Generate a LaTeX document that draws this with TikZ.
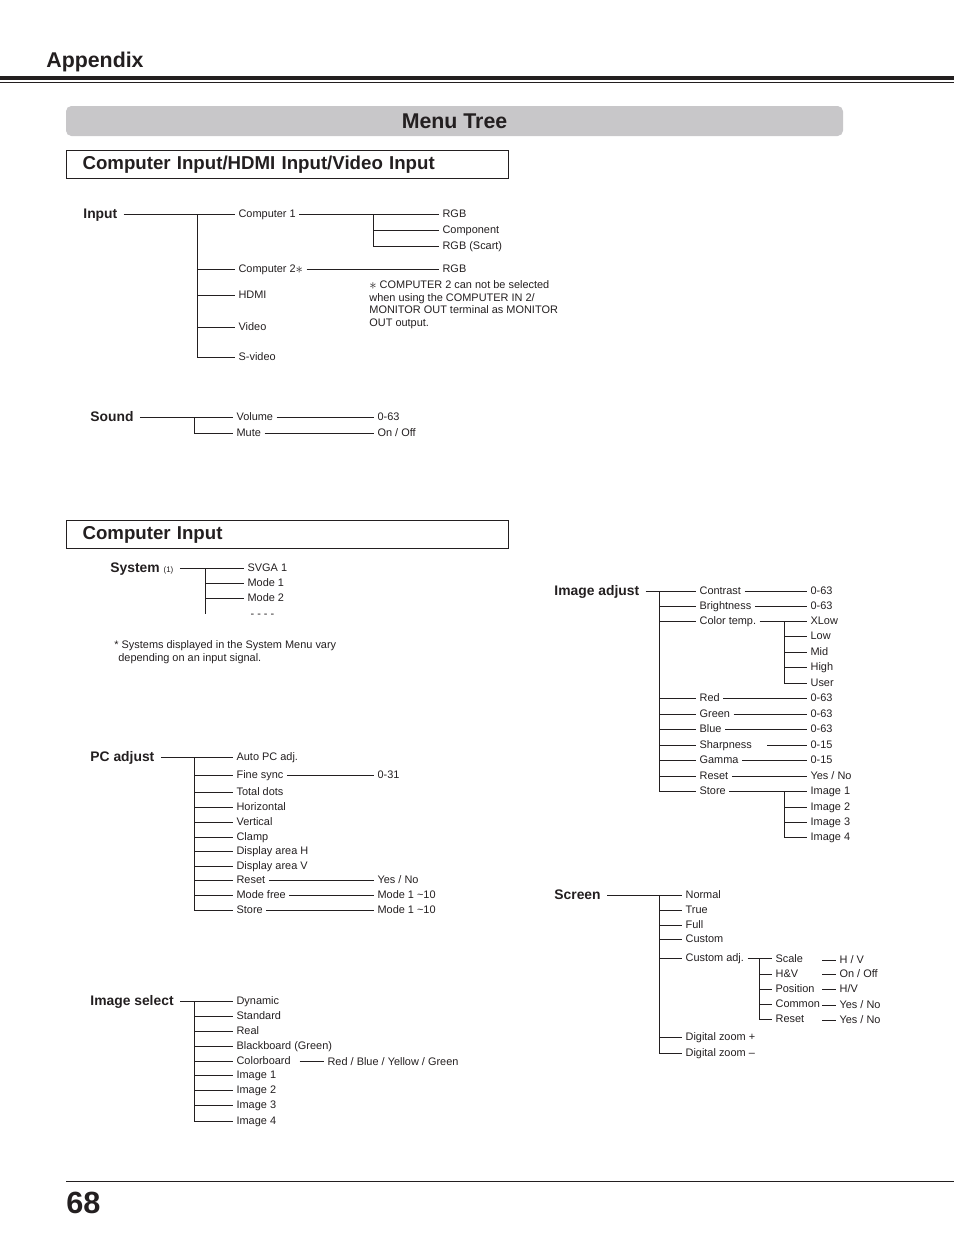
\documentclass[tikz,border=0pt]{standalone}
\usepackage{fontspec}
\setmainfont{Liberation Sans}
\usepackage{tikz}
\usetikzlibrary{positioning,calc}
\usepackage{xcolor}
\definecolor{ink}{RGB}{35,31,32}
\definecolor{barfill}{RGB}{200,199,201}
\newcommand{\bigast}{\raisebox{-0.4pt}{\fontsize{11}{11}\selectfont$\ast$}}

\begin{document}
\begin{tikzpicture}[x=0.75pt,y=-0.75pt,color=ink,line width=0.6pt,
  item/.style={anchor=west,inner xsep=2.4pt,inner ysep=0pt,font=\fontsize{8.2}{9}\selectfont,text height=6.6pt,text depth=1.2pt},
  head/.style={anchor=west,inner xsep=4.5pt,inner ysep=0pt,font=\bfseries\fontsize{10.4}{12}\selectfont,text height=8pt,text depth=1.8pt},
  note/.style={anchor=north west,inner sep=0pt,align=left,font=\fontsize{8.2}{9.4}\selectfont},
  secbox/.style={draw,line width=0.8pt,anchor=north west,minimum width=331.5pt,minimum height=21pt,text width=307.5pt,inner xsep=12pt,align=left,font=\bfseries\fontsize{14}{16}\selectfont}]
\useasboundingbox (0,0) rectangle (954,1235);

\node[anchor=base west,inner sep=0pt,font=\bfseries\fontsize{16}{18}\selectfont] (app) at (46,67) {Appendix};
\draw[line width=3pt] (0,77.5) -- (954,77.5);
\draw[line width=1.1pt] (0,82.7) -- (954,82.7);
\node[fill=barfill,rounded corners=4pt,minimum width=582.75pt,minimum height=22.5pt,inner sep=0pt,font=\bfseries\fontsize{16}{18}\selectfont] (mtree) at (454.5,121) {Menu Tree};
\node[secbox] (sec1) at (66,150) {Computer Input/HDMI Input/Video Input};

\node[head] (in) at (77,214) {Input};
\node[item] (c1) at (235,214) {Computer 1};
\node[item] (c2) at (235,269) {Computer 2\bigast};
\node[item] (hdmi) at (235,295) {HDMI};
\node[item] (vid) at (235,327) {Video};
\node[item] (svid) at (235,357) {S-video};
\node[item] (rgb1) at (439,214) {RGB};
\node[item] (comp) at (439,230) {Component};
\node[item] (scart) at (439,246) {RGB (Scart)};
\node[item] (rgb2) at (439,269) {RGB};
\node[note] (c2note) at (369,280.5) {\bigast\ COMPUTER 2 can not be selected\\when using the COMPUTER IN 2/\\MONITOR OUT terminal as MONITOR\\OUT output.};
\coordinate (inT) at (197,214);
\coordinate (c1T) at (373,214);
\draw (in.east) -- (c1.west);
\draw (inT) |- (svid.west);
\draw (inT |- c2.west) -- (c2.west);
\draw (inT |- hdmi.west) -- (hdmi.west);
\draw (inT |- vid.west) -- (vid.west);
\draw (c1.east) -- (rgb1.west);
\draw (c1T) |- (scart.west);
\draw (c1T |- comp.west) -- (comp.west);
\draw (c2.east) -- (rgb2.west);

\node[head] (snd) at (84,417) {Sound};
\node[item] (vol) at (233,417) {Volume};
\node[item] (mute) at (233,433) {Mute};
\node[item] (volv) at (374,417) {0-63};
\node[item] (mutev) at (374,433) {On / Off};
\coordinate (sndT) at (194,417);
\draw (snd.east) -- (vol.west);
\draw (sndT) |- (mute.west);
\draw (vol.east) -- (volv.west);
\draw (mute.east) -- (mutev.west);

\node[secbox] (sec2) at (66,520) {Computer Input};

\node[head] (sys) at (104,568) {System {\mdseries\fontsize{6}{7}\selectfont (1)}};
\node[item] (svga) at (244,568) {SVGA 1};
\node[item] (m1) at (244,583) {Mode 1};
\node[item] (m2) at (244,598) {Mode 2};
\node[item] (more) at (247,614) {- - - -};
\node[note] (sysnote) at (114,640.5) {* Systems displayed in the System Menu vary\\\hspace*{3pt}depending on an input signal.};
\coordinate (sysT) at (205,568);
\draw (sys.east) -- (svga.west);
\draw (sysT) -- (sysT |- more.west);
\draw (sysT |- m1.west) -- (m1.west);
\draw (sysT |- m2.west) -- (m2.west);

\node[head] (pc) at (84,757) {PC adjust};
\node[item] (apc) at (233,757) {Auto PC adj.};
\node[item] (fs) at (233,775) {Fine sync};
\node[item] (td) at (233,792) {Total dots};
\node[item] (hz) at (233,807) {Horizontal};
\node[item] (vt) at (233,822) {Vertical};
\node[item] (clp) at (233,837) {Clamp};
\node[item] (dah) at (233,851) {Display area H};
\node[item] (dav) at (233,866) {Display area V};
\node[item] (pcrst) at (233,880) {Reset};
\node[item] (mf) at (233,895) {Mode free};
\node[item] (pcst) at (233,910) {Store};
\node[item] (fsv) at (374,775) {0-31};
\node[item] (pcrstv) at (374,880) {Yes / No};
\node[item] (mfv) at (374,895) {Mode 1 \textasciitilde10};
\node[item] (pcstv) at (374,910) {Mode 1 \textasciitilde10};
\coordinate (pcT) at (194,757);
\draw (pc.east) -- (apc.west);
\draw (pcT) |- (pcst.west);
\draw (pcT |- fs.west) -- (fs.west);
\draw (pcT |- td.west) -- (td.west);
\draw (pcT |- hz.west) -- (hz.west);
\draw (pcT |- vt.west) -- (vt.west);
\draw (pcT |- clp.west) -- (clp.west);
\draw (pcT |- dah.west) -- (dah.west);
\draw (pcT |- dav.west) -- (dav.west);
\draw (pcT |- pcrst.west) -- (pcrst.west);
\draw (pcT |- mf.west) -- (mf.west);
\draw (fs.east) -- (fsv.west);
\draw (pcrst.east) -- (pcrstv.west);
\draw (mf.east) -- (mfv.west);
\draw (pcst.east) -- (pcstv.west);

\node[head] (isel) at (84,1001) {Image select};
\node[item] (dyn) at (233,1001) {Dynamic};
\node[item] (std) at (233,1016) {Standard};
\node[item] (real) at (233,1031) {Real};
\node[item] (bb) at (233,1046) {Blackboard (Green)};
\node[item] (cb) at (233,1061) {Colorboard};
\node[item] (is1) at (233,1075) {Image 1};
\node[item] (is2) at (233,1090) {Image 2};
\node[item] (is3) at (233,1105) {Image 3};
\node[item] (is4) at (233,1121) {Image 4};
\node[item] (cbv) at (324,1062) {Red / Blue / Yellow / Green};
\coordinate (iselT) at (194,1001);
\draw (isel.east) -- (dyn.west);
\draw (iselT) |- (is4.west);
\draw (iselT |- std.west) -- (std.west);
\draw (iselT |- real.west) -- (real.west);
\draw (iselT |- bb.west) -- (bb.west);
\draw (iselT |- cb.west) -- (cb.west);
\draw (iselT |- is1.west) -- (is1.west);
\draw (iselT |- is2.west) -- (is2.west);
\draw (iselT |- is3.west) -- (is3.west);
\draw ([xshift=4pt]cb.east) -- (cb.east -| cbv.west);

\node[head] (iadj) at (548,591) {Image adjust};
\node[item] (con) at (696,591) {Contrast};
\node[item] (bri) at (696,606) {Brightness};
\node[item] (ct) at (696,621) {Color temp.};
\node[item] (red) at (696,698) {Red};
\node[item] (grn) at (696,714) {Green};
\node[item] (blu) at (696,729) {Blue};
\node[item] (shp) at (696,745) {Sharpness};
\node[item] (gam) at (696,760) {Gamma};
\node[item] (iarst) at (696,776) {Reset};
\node[item] (iast) at (696,791) {Store};
\node[item] (conv) at (807,591) {0-63};
\node[item] (briv) at (807,606) {0-63};
\node[item] (xlow) at (807,621) {XLow};
\node[item] (low) at (807,636) {Low};
\node[item] (mid) at (807,652) {Mid};
\node[item] (high) at (807,667) {High};
\node[item] (user) at (807,683) {User};
\node[item] (redv) at (807,698) {0-63};
\node[item] (grnv) at (807,714) {0-63};
\node[item] (bluv) at (807,729) {0-63};
\node[item] (shpv) at (807,745) {0-15};
\node[item] (gamv) at (807,760) {0-15};
\node[item] (iarstv) at (807,776) {Yes / No};
\node[item] (img1) at (807,791) {Image 1};
\node[item] (img2) at (807,807) {Image 2};
\node[item] (img3) at (807,822) {Image 3};
\node[item] (img4) at (807,837) {Image 4};
\coordinate (iadjT) at (659,591);
\coordinate (ctT) at (784,621);
\coordinate (iastT) at (784,791);
\draw (iadj.east) -- (con.west);
\draw (iadjT) |- (iast.west);
\draw (iadjT |- bri.west) -- (bri.west);
\draw (iadjT |- ct.west) -- (ct.west);
\draw (iadjT |- red.west) -- (red.west);
\draw (iadjT |- grn.west) -- (grn.west);
\draw (iadjT |- blu.west) -- (blu.west);
\draw (iadjT |- shp.west) -- (shp.west);
\draw (iadjT |- gam.west) -- (gam.west);
\draw (iadjT |- iarst.west) -- (iarst.west);
\draw (con.east) -- (conv.west);
\draw (bri.east) -- (briv.west);
\draw (ct.east) -- (xlow.west);
\draw (ctT) |- (user.west);
\draw (ctT |- low.west) -- (low.west);
\draw (ctT |- mid.west) -- (mid.west);
\draw (ctT |- high.west) -- (high.west);
\draw (red.east) -- (redv.west);
\draw (grn.east) -- (grnv.west);
\draw (blu.east) -- (bluv.west);
\draw ([xshift=9pt]shp.east) -- (shpv.west);
\draw (gam.east) -- (gamv.west);
\draw (iarst.east) -- (iarstv.west);
\draw (iast.east) -- (img1.west);
\draw (iastT) |- (img4.west);
\draw (iastT |- img2.west) -- (img2.west);
\draw (iastT |- img3.west) -- (img3.west);

\node[head] (scr) at (548,895) {Screen};
\node[item] (nor) at (682,895) {Normal};
\node[item] (tru) at (682,910) {True};
\node[item] (ful) at (682,925) {Full};
\node[item] (cus) at (682,939) {Custom};
\node[item] (cadj) at (682,958) {Custom adj.};
\node[item] (dzp) at (682,1037) {Digital zoom +};
\node[item] (dzm) at (682,1053) {Digital zoom --};
\node[item] (scl) at (772,959) {Scale};
\node[item] (hv) at (772,974) {H\&V};
\node[item] (pos) at (772,989) {Position};
\node[item] (com) at (772,1004) {Common};
\node[item] (crst) at (772,1019) {Reset};
\node[item] (sclv) at (836,960) {H / V};
\node[item] (hvv) at (836,974) {On / Off};
\node[item] (posv) at (836,989) {H/V};
\node[item] (comv) at (836,1005) {Yes / No};
\node[item] (crstv) at (836,1020) {Yes / No};
\coordinate (scrT) at (659,895);
\coordinate (cadjT) at (759,958);
\coordinate (cvL) at (822,959);
\draw (scr.east) -- (nor.west);
\draw (scrT) |- (dzm.west);
\draw (scrT |- tru.west) -- (tru.west);
\draw (scrT |- ful.west) -- (ful.west);
\draw (scrT |- cus.west) -- (cus.west);
\draw (scrT |- cadj.west) -- (cadj.west);
\draw (scrT |- dzp.west) -- (dzp.west);
\draw (cadj.east) -- (cadj.east -| scl.west);
\draw (cadjT) |- (crst.west);
\draw (cadjT |- hv.west) -- (hv.west);
\draw (cadjT |- pos.west) -- (pos.west);
\draw (cadjT |- com.west) -- (com.west);
\draw (cvL |- sclv.west) -- (sclv.west);
\draw (cvL |- hvv.west) -- (hvv.west);
\draw (cvL |- posv.west) -- (posv.west);
\draw (cvL |- comv.west) -- (comv.west);
\draw (cvL |- crstv.west) -- (crstv.west);

\draw[line width=1.3pt] (66,1181.5) -- (954,1181.5);
\node[anchor=base west,inner sep=0pt,font=\bfseries\fontsize{23}{26}\selectfont] (pg) at (66,1213) {68};
\end{tikzpicture}
\end{document}
